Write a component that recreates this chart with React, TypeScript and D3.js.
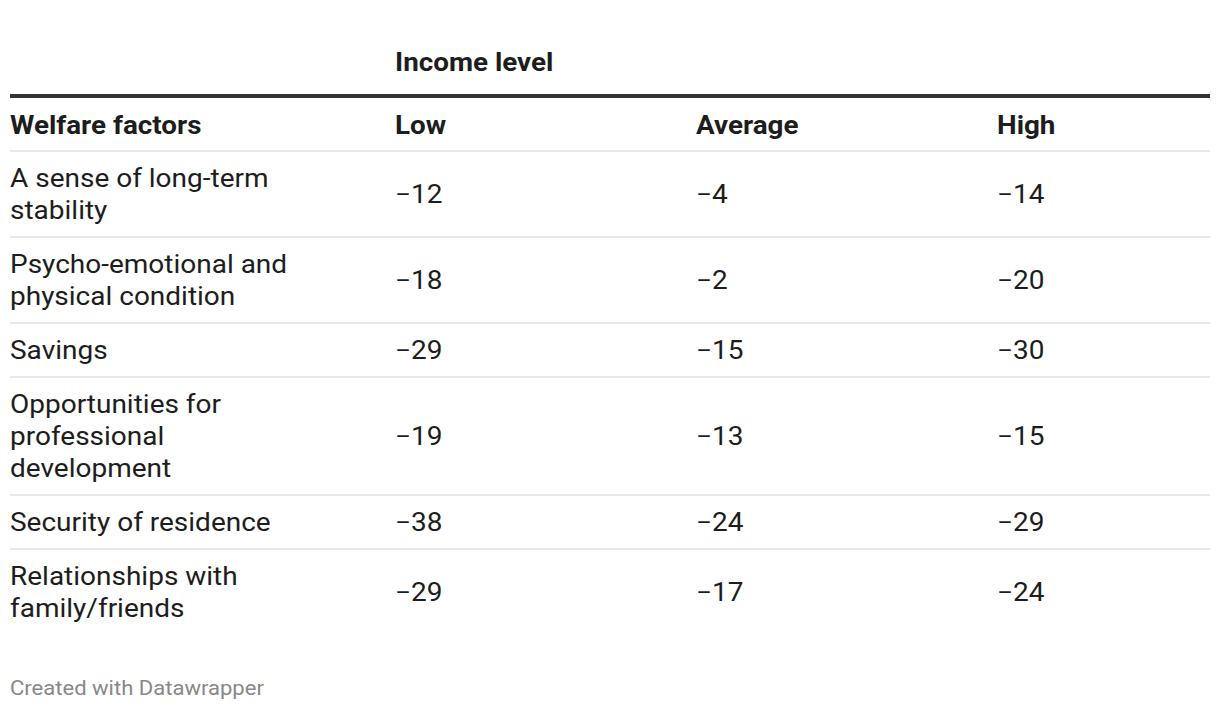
import React from "react";
import * as d3 from "d3";

const columnTitle = "Income level";
const rowHeader = "Welfare factors";
const columns = ["Low", "Average", "High"];
const factors = [
  "A sense of long-term\nstability",
  "Psycho-emotional and\nphysical condition",
  "Savings",
  "Opportunities for\nprofessional\ndevelopment",
  "Security of residence",
  "Relationships with\nfamily/friends",
];
const lowValues = [-12, -18, -29, -19, -38, -29];
const averageValues = [-4, -2, -15, -13, -24, -17];
const highValues = [-14, -20, -30, -15, -29, -24];
const footer = "Created with Datawrapper";

const W = 1220;
const H = 710;
const FONT = "Roboto, 'Noto Sans', sans-serif";

type TProps = {
  x: number;
  y: number;
  size: number;
  sx: number;
  weight?: number;
  fill: string;
  dy?: string;
  children: React.ReactNode;
};

function T({ x, y, size, sx, weight = 400, fill, dy, children }: TProps) {
  return (
    <text
      transform={`translate(${x},${y}) scale(${sx},1)`}
      dy={dy}
      fontSize={size}
      fontWeight={weight}
      fill={fill}
    >
      {children}
    </text>
  );
}

export default function App() {
  const series = [lowValues, averageValues, highValues];
  const fmt = d3.format("d");
  const left = 10;
  const right = 1210;
  const x = d3.scaleOrdinal<string, number>().domain(columns).range([395, 696, 997]);
  const lineH = 32;
  const pad = 11;
  const headerBottom = 151;
  const lines = factors.map((f) => f.split("\n"));
  const heights = lines.map((l) => l.length * lineH + pad * 2);
  const tops: number[] = [];
  let acc = headerBottom;
  heights.forEach((h) => {
    tops.push(acc);
    acc += h;
  });
  const textColor = "#1d1d1d";
  const bodySize = 25;
  const bodySx = 1.12;
  const headSize = 26;
  const headSx = 1.07;
  return (
    <svg width={W} height={H} style={{ position: "absolute", left: 0, top: 0 }} fontFamily={FONT}>
      <rect width={W} height={H} fill="#ffffff" />
      <T x={x("Low")} y={71} size={headSize} sx={headSx} weight={700} fill={textColor}>
        {columnTitle}
      </T>
      <rect x={left} y={94} width={right - left} height={4} fill="#333333" />
      <T x={left} y={134} size={headSize} sx={headSx} weight={700} fill={textColor}>
        {rowHeader}
      </T>
      {columns.map((c) => (
        <T key={c} x={x(c)} y={134} size={headSize} sx={headSx} weight={700} fill={textColor}>
          {c}
        </T>
      ))}
      <rect x={left} y={headerBottom - 1} width={right - left} height={2} fill="#e8e8e8" />
      {factors.map((f, i) => {
        const top = tops[i];
        const h = heights[i];
        const cy = top + h / 2;
        const n = lines[i].length;
        return (
          <g key={f}>
            {lines[i].map((ln, j) => (
              <T
                key={j}
                x={left}
                y={cy + (j - (n - 1) / 2) * lineH}
                dy="0.35em"
                size={bodySize}
                sx={bodySx}
                fill={textColor}
              >
                {ln}
              </T>
            ))}
            {columns.map((c, k) => (
              <T key={c} x={x(c)} y={cy} dy="0.35em" size={bodySize} sx={bodySx} fill={textColor}>
                {fmt(series[k][i])}
              </T>
            ))}
            {i < factors.length - 1 && (
              <rect x={left} y={top + h - 1} width={right - left} height={2} fill="#e8e8e8" />
            )}
          </g>
        );
      })}
      <T x={left} y={695} size={21} sx={1.05} fill="#888888">
        {footer}
      </T>
    </svg>
  );
}
